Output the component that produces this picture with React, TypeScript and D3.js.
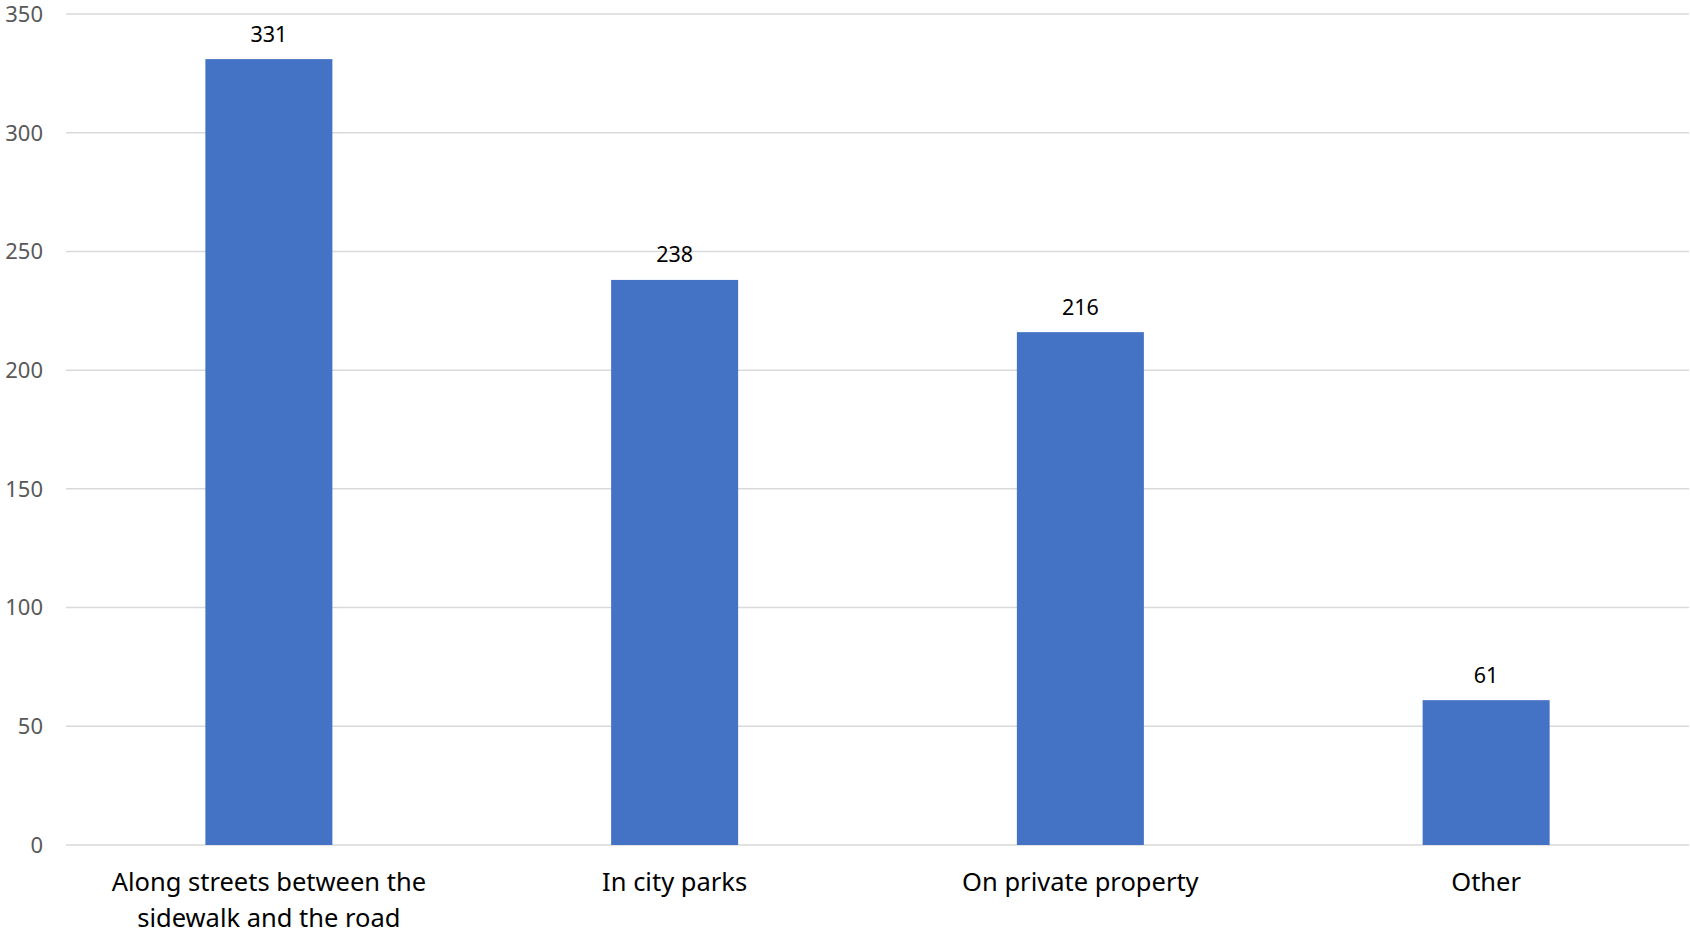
import React, { useEffect, useRef } from "react";
import * as d3 from "d3";

const categories = [
  "Along streets between the sidewalk and the road",
  "In city parks",
  "On private property",
  "Other",
];
const values = [331, 238, 216, 61];
const yTicks = [0, 50, 100, 150, 200, 250, 300, 350];

const W = 1690;
const H = 935;
const FONT = "'Noto Sans', 'Open Sans', sans-serif";

export default function App() {
  const ref = useRef<SVGSVGElement | null>(null);

  useEffect(() => {
    const svg = d3.select(ref.current);
    svg.selectAll("*").remove();

    const x = d3
      .scaleBand<string>()
      .domain(categories)
      .range([66, 1689])
      .paddingInner(0.687)
      .paddingOuter(0.3435);
    const y = d3.scaleLinear().domain([0, 350]).range([845, 14]);

    // gridlines
    svg
      .append("g")
      .selectAll("line")
      .data(yTicks)
      .join("line")
      .attr("x1", 66)
      .attr("x2", 1689)
      .attr("y1", (d) => y(d))
      .attr("y2", (d) => y(d))
      .attr("stroke", "#d9d9d9")
      .attr("stroke-width", 1.5);

    // y tick labels
    svg
      .append("g")
      .selectAll("text")
      .data(yTicks)
      .join("text")
      .attr("x", 43)
      .attr("y", (d) => y(d) + 7.8)
      .attr("text-anchor", "end")
      .attr("font-family", FONT)
      .attr("font-size", 22)
      .attr("fill", "#595959")
      .text((d) => String(d));

    // bars
    svg
      .append("g")
      .selectAll("rect")
      .data(categories)
      .join("rect")
      .attr("x", (d) => x(d)!)
      .attr("width", x.bandwidth())
      .attr("y", (d, i) => y(values[i]))
      .attr("height", (d, i) => y(0) - y(values[i]))
      .attr("fill", "#4472C4");

    // value labels
    svg
      .append("g")
      .selectAll("text")
      .data(categories)
      .join("text")
      .attr("x", (d) => x(d)! + x.bandwidth() / 2)
      .attr("y", (d, i) => y(values[i]) - 17.5)
      .attr("text-anchor", "middle")
      .attr("font-family", FONT)
      .attr("font-size", 21.5)
      .attr("fill", "#000000")
      .text((d, i) => String(values[i]));

    // x labels with wrapping
    const maxW = x.step() * 0.85;
    const xl = svg.append("g");
    categories.forEach((c) => {
      const cx = x(c)! + x.bandwidth() / 2;
      const t = xl
        .append("text")
        .attr("x", cx)
        .attr("y", 891)
        .attr("text-anchor", "middle")
        .attr("font-family", FONT)
        .attr("font-size", 25.5)
        .attr("fill", "#000000");
      const words = c.split(" ");
      let line: string[] = [];
      let tspan = t.append("tspan").attr("x", cx).attr("dy", 0);
      words.forEach((w) => {
        line.push(w);
        tspan.text(line.join(" "));
        const node = tspan.node() as SVGTSpanElement;
        if (node.getComputedTextLength() > maxW && line.length > 1) {
          line.pop();
          tspan.text(line.join(" "));
          line = [w];
          tspan = t.append("tspan").attr("x", cx).attr("dy", 36).text(w);
        }
      });
    });
  }, []);

  return (
    <svg
      ref={ref}
      width={W}
      height={H}
      style={{ position: "absolute", left: 0, top: 0, background: "#ffffff" }}
    />
  );
}
